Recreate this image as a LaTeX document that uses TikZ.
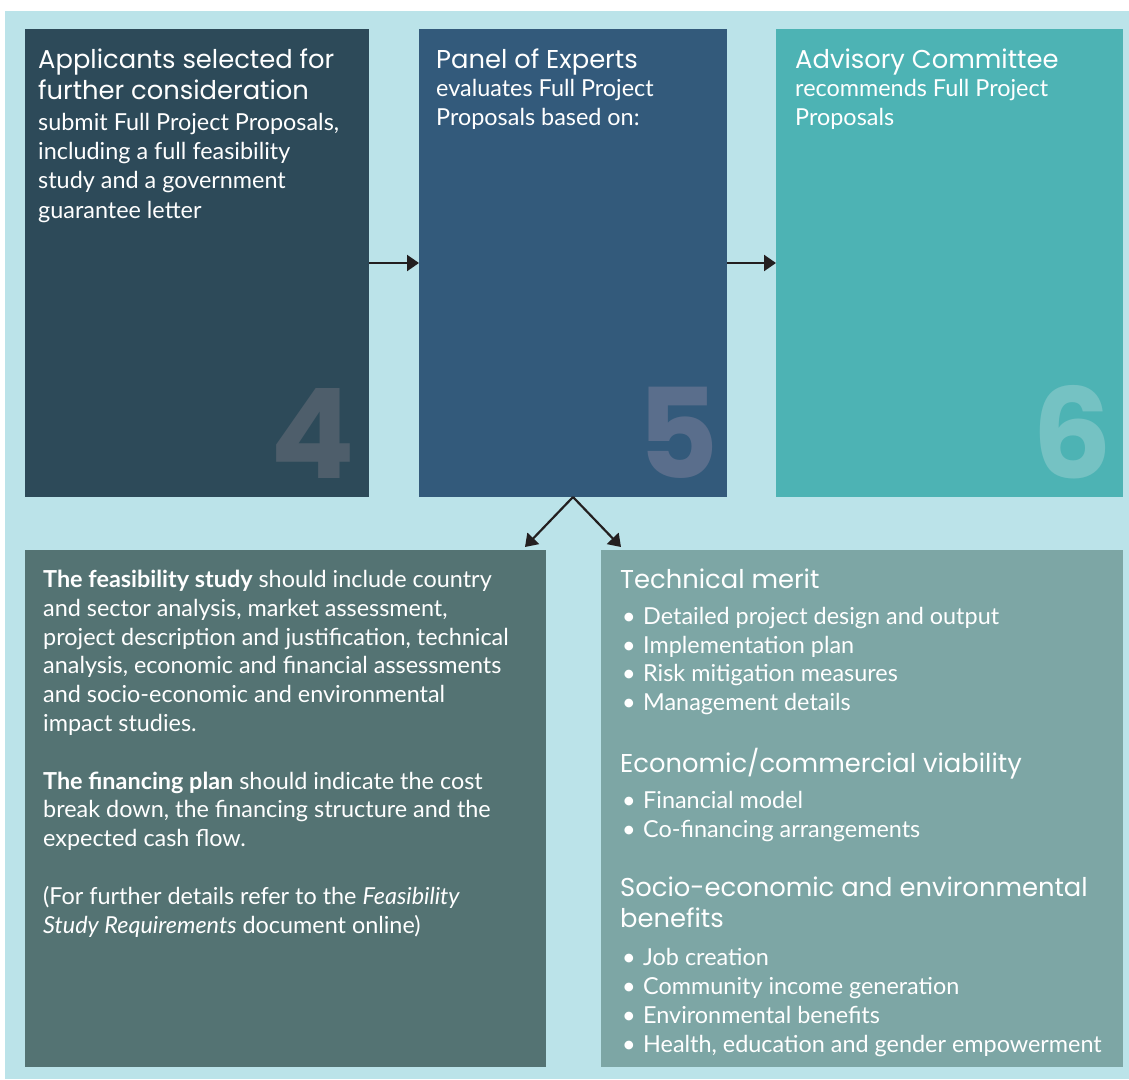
\documentclass[tikz,border=0pt]{standalone}
\usepackage{fontspec}
\setmainfont{Lato}
\newfontfamily\headfont{Poppins}
\usetikzlibrary{arrows.meta}

\definecolor{bgc}{HTML}{BBE3E9}
\definecolor{c4}{HTML}{2D4A59}
\definecolor{c5}{HTML}{335A7B}
\definecolor{c6}{HTML}{4DB3B4}
\definecolor{cstudy}{HTML}{547373}
\definecolor{cmerit}{HTML}{7DA6A5}
\definecolor{n4}{HTML}{4E5E6B}
\definecolor{n5}{HTML}{5A6E8C}
\definecolor{n6}{HTML}{75C2C3}
\definecolor{arrowc}{HTML}{231F20}

\newcommand\bul{\makebox[22pt][l]{\hspace{1pt}\textbullet}}

\begin{document}
\begin{tikzpicture}[x=1pt, y=-1pt,
  box/.style={rectangle, anchor=north west, inner sep=0pt, outer sep=0pt},
  head/.style={anchor=base west, inner sep=0pt, align=left, text=white, font=\headfont\fontsize{25.8}{30.5}\selectfont},
  body/.style={anchor=base west, inner sep=0pt, align=left, text=white, font=\fontsize{23.4}{28.8}\selectfont},
  num/.style={anchor=base east, inner sep=0pt, font=\headfont\bfseries\fontsize{125}{125}\selectfont},
  link/.style={-{Triangle[length=12pt, width=16pt]}, line width=2.2pt, draw=arrowc}]
  \useasboundingbox (0,0) rectangle (1129,1079);
  \fill[bgc] (5,11) rectangle (1129,1079);

  % the three steps
  \node (4) [box, fill=c4, minimum width=344pt, minimum height=468pt] at (25,29) {};
  \node (5) [box, fill=c5, minimum width=308pt, minimum height=468pt] at (419,29) {};
  \node (6) [box, fill=c6, minimum width=347pt, minimum height=468pt] at (776,29) {};
  \node (study) [box, fill=cstudy, minimum width=521pt, minimum height=517pt] at (25,550) {};
  \node (merit) [box, fill=cmerit, minimum width=522pt, minimum height=517pt] at (601,550) {};

  \node [num, text=n4] at ([xshift=-14pt, yshift=19pt]4.south east) {4};
  \node [num, text=n5] at ([xshift=-8pt, yshift=19pt]5.south east) {5};
  \node [num, text=n6] at ([xshift=-11pt, yshift=19pt]6.south east) {6};

  % texts, placed at the baseline of their last line
  \node [head] at (38,99) {Applicants selected for\\further consideration};
  \node [body, font=\fontsize{23.4}{29.3}\selectfont] at (38,218) {submit Full Project Proposals,\\including a full feasibility\\study and a government\\guarantee letter};
  \node [head] at (436,68) {Panel of Experts};
  \node [body] at (436,125) {evaluates Full Project\\Proposals based on:};
  \node [head] at (795,68) {Advisory Committee};
  \node [body] at (795,125) {recommends Full Project\\Proposals};

  \node [body] at (43,933) {\textbf{The feasibility study} should include country\\
    and sector analysis, market assessment,\\
    project description and justification, technical\\
    analysis, economic and financial assessments\\
    and socio-economic and environmental\\
    impact studies.\\[28.8pt]
    \textbf{The financing plan} should indicate the cost\\
    break down, the financing structure and the\\
    expected cash flow.\\[28.8pt]
    (For further details refer to the \textit{Feasibility}\\
    \textit{Study Requirements} document online)};

  \node [head] at (620,588) {Technical merit};
  \node [body, font=\fontsize{23.4}{28.4}\selectfont] at (621,710) {\bul Detailed project design and output\\\bul Implementation plan\\\bul Risk mitigation measures\\\bul Management details};
  \node [head] at (620,772) {Economic/commercial viability};
  \node [body] at (621,837) {\bul Financial model\\\bul Co-financing arrangements};
  \node [head] at (620,927) {Socio-economic and environmental\\benefits};
  \node [body] at (621,1052) {\bul Job creation\\\bul Community income generation\\\bul Environmental benefits\\\bul Health, education and gender empowerment};

  % connectors
  \coordinate (l) at (525,547);
  \coordinate (r) at (621,547);
  \draw[link] (4) -- (5);
  \draw[link] (5) -- (6);
  \draw[link] (5.south) -- (l);
  \draw[link] (5.south) -- (r);
\end{tikzpicture}
\end{document}
